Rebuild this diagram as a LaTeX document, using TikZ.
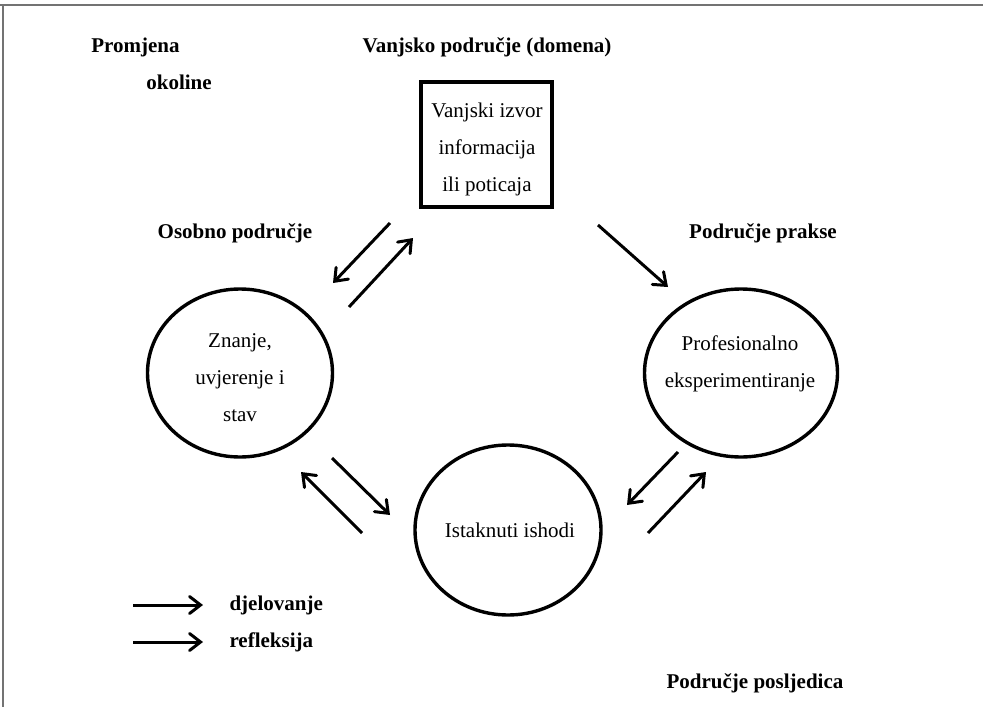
\documentclass[tikz,border=0pt]{standalone}
\usepackage{fontspec}
\setmainfont{Liberation Serif}
\usetikzlibrary{arrows.meta,shapes.geometric}
\newcommand{\strel}[3]{
	\coordinate (#1a) at (#2);
	\coordinate (#1b) at (#3);
	\draw [act](#1a) -- (#1b);
	}
\begin{document}
\begin{tikzpicture}[
      x=1pt, y=-1pt, %one unit = one pixel of the page
      naslov/.style={font=\fontsize{21}{25}\selectfont\bfseries},
      tekst/.style={font=\fontsize{21}{37}\selectfont, align=center},
      krug/.style={ellipse, draw, line width=3.4pt, inner sep=0pt},
      kutija/.style={rectangle, draw, line width=4.2pt, minimum width=131pt, minimum height=125pt, inner sep=0pt},
      act/.style={line width=3pt, -{Straight Barb[length=11pt,width=17pt,line cap=round]}},
      okvir/.style={line width=2.2pt, black!55}
    ]
    \useasboundingbox (0,0) rectangle (983,707);
    %frame
    \coordinate (okvirA) at (0,5);
    \coordinate (okvirB) at (983,5);
    \coordinate (okvirC) at (3,5);
    \coordinate (okvirD) at (3,707);
    \draw [okvir](okvirA) -- (okvirB);
    \draw [okvir](okvirC) -- (okvirD);
    % Titles of the areas
    \node[naslov] (promjena) at (135.5,47) {Promjena};
    \node[naslov] (okolina) at (179,82) {okoline};
    \node[naslov] (vanjsko) at (487,47) {Vanjsko područje (domena)};
    \node[naslov] (osobno) at (235,233) {Osobno područje};
    \node[naslov] (praksa) at (763,233) {Područje prakse};
    \node[naslov] (posljedice) at (755,683) {Područje posljedica};
    % Box and circles
    \node[kutija] (izvor) at (486.5,144.5) {};
    \node[tekst] (izvorT) at (487,149) {Vanjski izvor\\informacija\\ili poticaja};
    \node[krug, minimum width=185pt, minimum height=168pt] (znanje) at (240,373) {};
    \node[tekst] (znanjeT) at (240,378) {Znanje,\\uvjerenje i\\stav};
    \node[krug, minimum width=193pt, minimum height=168pt] (profesija) at (741,373) {};
    \node[tekst] (profesijaT) at (740,364) {Profesionalno\\eksperimentiranje};
    \node[krug, minimum width=186pt, minimum height=170pt] (ishodi) at (508,530) {};
    \node[tekst] (ishodiT) at (510,530) {Istaknuti ishodi};
    % Arrows between the areas
    \strel{iz}{390,223}{333,283};
    \strel{zi}{349,307}{413,238};
    \strel{ip}{598,225}{668,287};
    \strel{zs}{332,458}{390,515};
    \strel{sz}{362,533}{301,472};
    \strel{ps}{678,452}{627,505};
    \strel{sp}{648,533}{706,472};
    % Legend
    \strel{leg1}{133,605}{203,605};
    \strel{leg2}{133,642}{203,642};
    \node[naslov, anchor=west] (djelovanje) at (226,605) {djelovanje};
    \node[naslov, anchor=west] (refleksija) at (226,642) {refleksija};
    \end{tikzpicture}
\end{document}
